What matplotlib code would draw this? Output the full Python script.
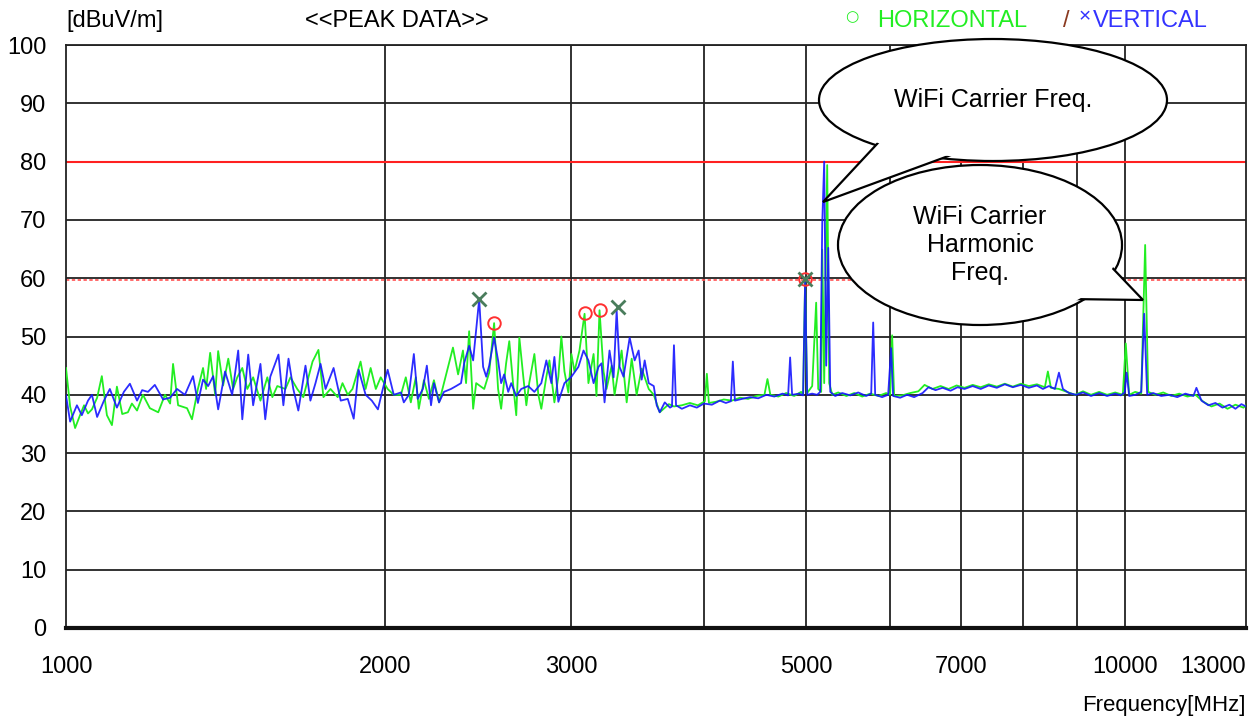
import matplotlib
matplotlib.use('Agg')
import matplotlib.pyplot as plt
from matplotlib.patches import Ellipse, Polygon
import numpy as np

plt.rcParams['font.family'] = ['Liberation Sans', 'DejaVu Sans']

# ---- data (MHz, dBuV/m) ----
h_freq = [1000, 1009, 1020, 1031, 1040, 1049, 1058, 1070, 1081, 1093, 1105, 1117, 1130, 1144,
          1154, 1167, 1182, 1200, 1222, 1240, 1254, 1262, 1276, 1301, 1315, 1332, 1347, 1356,
          1368, 1383, 1392, 1407, 1423, 1438, 1451, 1467, 1483, 1502, 1526, 1549, 1566, 1583,
          1611, 1629, 1653, 1675, 1709, 1731, 1750, 1777, 1805, 1824, 1845, 1864, 1897, 1918,
          1939, 1961, 1982, 2012, 2039, 2071, 2093, 2116, 2139, 2153, 2177, 2201, 2225, 2250,
          2274, 2319, 2345, 2370, 2386, 2402, 2423, 2439, 2482, 2509, 2536, 2558, 2575, 2603,
          2621, 2644, 2661, 2679, 2702, 2720, 2737, 2768, 2792, 2810, 2841, 2860, 2891, 2916,
          2935, 2955, 2980, 3000, 3020, 3053, 3087, 3113, 3148, 3168, 3189, 3217, 3238, 3274,
          3295, 3346, 3383, 3420, 3457, 3495, 3549, 3588, 3635, 3708, 3749, 3814, 3881, 3949,
          4010, 4027, 4045, 4106, 4178, 4252, 4328, 4404, 4484, 4564, 4594, 4623, 4705, 4785,
          4869, 4943, 4964, 4986, 5008, 5063, 5107, 5130, 5163, 5175, 5197, 5231, 5254, 5289,
          5358, 5454, 5548, 5645, 5744, 5846, 5946, 5998, 6024, 6050, 6156, 6265, 6377, 6464,
          6575, 6693, 6811, 6930, 7051, 7177, 7303, 7432, 7563, 7696, 7831, 7969, 8109, 8252,
          8396, 8451, 8507, 8657, 8809, 8965, 9122, 9282, 9447, 9612, 9783, 9946, 10010, 10085,
          10218, 10352, 10441, 10510, 10672, 10860, 11051, 11245, 11445, 11647, 11852, 12059,
          12271, 12487, 12705, 12929, 13000]
h_level = [44.6, 38.0, 34.3, 36.5, 38.2, 36.8, 37.5, 39.5, 43.2, 36.5, 34.8, 41.4, 36.7, 37.0,
           38.5, 37.3, 40.0, 37.7, 37.0, 40.0, 38.5, 45.3, 38.2, 37.7, 35.8, 41.0, 44.6, 41.0,
           47.2, 40.0, 47.5, 41.6, 46.2, 41.0, 43.0, 44.6, 41.0, 43.0, 39.0, 43.0, 39.6, 41.5,
           41.0, 43.0, 41.0, 39.6, 45.7, 47.7, 39.6, 41.0, 39.6, 42.0, 40.0, 41.0, 45.7, 41.0,
           44.6, 41.0, 43.0, 41.0, 40.0, 40.0, 43.0, 38.7, 43.0, 37.6, 42.5, 39.3, 42.5, 38.7,
           42.0, 48.1, 43.5, 47.6, 42.0, 50.9, 37.6, 42.0, 41.0, 43.8, 52.3, 41.0, 37.6, 45.4,
           49.2, 41.5, 36.5, 49.8, 43.1, 38.2, 42.0, 47.0, 40.0, 37.6, 43.1, 45.9, 38.7, 43.1,
           50.0, 44.0, 40.4, 47.0, 44.0, 47.6, 53.9, 42.0, 47.0, 39.8, 54.5, 44.0, 41.0, 45.0,
           40.0, 47.6, 38.7, 46.2, 40.0, 44.5, 41.0, 40.0, 37.0, 38.4, 38.0, 38.2, 38.6, 38.2,
           38.9, 43.6, 38.6, 38.8, 39.2, 39.0, 39.5, 39.3, 39.8, 40.0, 42.7, 40.0, 39.7, 40.3,
           39.8, 40.5, 40.0, 59.8, 40.3, 41.5, 55.8, 41.0, 40.5, 64.9, 42.0, 79.4, 42.0, 40.0,
           40.4, 39.8, 40.3, 39.7, 40.2, 39.8, 40.3, 40.0, 50.2, 39.8, 39.9, 40.3, 40.6, 41.7,
           41.0, 41.5, 41.0, 41.6, 41.2, 41.7, 41.3, 41.8, 41.4, 41.9, 41.4, 41.9, 41.5, 41.8,
           41.3, 44.0, 41.2, 41.0, 40.5, 40.0, 40.6, 40.0, 40.5, 40.0, 40.4, 40.0, 48.8, 40.0,
           40.5, 40.2, 65.7, 40.5, 40.0, 40.4, 39.8, 40.2, 39.7, 40.0, 38.8, 38.0,
           38.5, 37.6, 38.3, 37.8, 38.2]

v_freq = [1000, 1009, 1024, 1035, 1049, 1058, 1070, 1086, 1100, 1117, 1134, 1149, 1167, 1180,
          1195, 1213, 1235, 1254, 1273, 1295, 1318, 1332, 1347, 1362, 1377, 1392, 1413, 1435,
          1454, 1467, 1486, 1502, 1526, 1542, 1559, 1587, 1604, 1622, 1639, 1657, 1683, 1701,
          1720, 1739, 1758, 1789, 1817, 1845, 1869, 1889, 1918, 1944, 1970, 1991, 2012, 2039,
          2071, 2084, 2107, 2130, 2148, 2172, 2191, 2211, 2225, 2250, 2274, 2309, 2335, 2360,
          2376, 2402, 2423, 2455, 2476, 2493, 2509, 2536, 2558, 2575, 2592, 2615, 2632, 2661,
          2690, 2731, 2768, 2810, 2841, 2872, 2891, 2916, 2955, 3000, 3046, 3080, 3113, 3148,
          3182, 3203, 3224, 3259, 3288, 3310, 3331, 3360, 3405, 3442, 3472, 3495, 3518, 3549,
          3588, 3611, 3635, 3675, 3717, 3733, 3749, 3766, 3814, 3881, 3940, 4001, 4071, 4142,
          4197, 4243, 4261, 4280, 4347, 4425, 4503, 4583, 4663, 4747, 4805, 4826, 4847, 4921,
          4964, 4986, 5008, 5063, 5118, 5152, 5175, 5197, 5220, 5243, 5266, 5323, 5405, 5500,
          5596, 5693, 5756, 5781, 5806, 5895, 5972, 6011, 6037, 6130, 6224, 6319, 6436, 6520,
          6620, 6722, 6840, 6944, 7051, 7177, 7303, 7432, 7563, 7696, 7831, 7969, 8109, 8252,
          8360, 8470, 8581, 8657, 8732, 8848, 8984, 9122, 9282, 9447, 9612, 9783, 9903, 9987,
          10030, 10085, 10218, 10352, 10419, 10487, 10625, 10812, 11003, 11196, 11395, 11596,
          11672, 11800, 11980, 12165, 12351, 12541, 12705, 12871, 13000]
v_level = [39.9, 35.4, 38.2, 36.5, 39.0, 40.0, 36.2, 39.0, 41.0, 37.8, 40.5, 41.9, 39.0, 40.8,
           40.5, 41.7, 39.2, 39.5, 41.0, 40.0, 43.2, 38.6, 42.6, 41.5, 43.2, 37.5, 44.0, 40.0,
           47.6, 35.8, 46.9, 38.2, 45.3, 35.8, 43.1, 46.9, 38.2, 46.2, 41.0, 37.3, 45.0, 39.0,
           42.0, 45.3, 41.0, 44.6, 39.0, 39.3, 35.9, 44.3, 40.0, 39.0, 37.5, 41.0, 44.3, 40.0,
           40.4, 38.7, 40.0, 47.0, 39.3, 41.0, 45.0, 38.2, 42.0, 38.7, 40.5, 41.0, 41.5, 42.0,
           45.4, 48.4, 45.9, 56.4, 44.8, 43.1, 45.0, 49.8, 45.9, 42.0, 43.5, 40.5, 42.0, 39.8,
           41.0, 41.5, 40.5, 42.0, 45.9, 42.0, 46.5, 38.8, 42.0, 43.1, 44.8, 47.6, 45.9, 42.0,
           44.8, 45.4, 38.7, 47.6, 43.0, 54.5, 44.8, 43.1, 49.8, 45.9, 47.6, 42.6, 45.9, 42.0,
           41.5, 38.2, 37.0, 38.7, 37.8, 38.0, 48.5, 38.2, 37.6, 38.2, 37.8, 38.5, 38.3, 39.0,
           38.6, 38.9, 45.7, 39.0, 39.3, 39.6, 39.4, 40.0, 39.7, 40.2, 39.9, 46.4, 40.0, 40.2,
           39.9, 59.5, 40.0, 40.2, 40.0, 40.5, 69.4, 80.0, 45.0, 65.2, 40.5, 39.8, 40.3, 39.9,
           40.4, 39.8, 40.2, 52.4, 40.0, 39.6, 40.0, 48.0, 39.8, 39.5, 40.0, 39.6, 40.3, 41.3,
           40.8, 41.2, 40.7, 41.3, 41.0, 41.5, 41.0, 41.6, 41.2, 41.8, 41.3, 41.7, 41.2, 41.6,
           41.0, 41.5, 41.0, 43.8, 41.0, 40.3, 40.0, 40.4, 39.8, 40.3, 39.8, 40.2, 39.9, 40.4,
           43.8, 39.8, 40.0, 40.5, 53.9, 40.0, 40.3, 39.8, 40.0, 39.6, 40.2, 39.8,
           41.2, 39.0, 38.2, 38.6, 37.8, 38.3, 37.6, 38.4, 38.0]

# peak markers
h_peak_freq = [2536, 3087, 3189, 4986]
h_peak_level = [52.4, 54.0, 54.5, 59.8]
v_peak_freq = [2455, 3317, 4986]
v_peak_level = [56.5, 55.0, 59.8]

limit_level = 80
warn_level = 60

x_ticks = [1000, 2000, 3000, 5000, 7000, 10000, 13000]
x_grid_only = [4000, 6000, 8000, 9000]
y_ticks = list(range(0, 101, 10))

W, H = 1257, 721
fig = plt.figure(figsize=(W / 100, H / 100), dpi=100)
ax = fig.add_axes([66 / W, 1 - 628 / H, (1246 - 66) / W, (628 - 45) / H])


def px(x, y):
    # pixel (from top-left) -> figure fraction
    return (x / W, 1 - y / H)


ax.set_xscale('log')
ax.set_xlim(1000, 13000)
ax.set_ylim(0, 100)

grid_c = '#222222'
for yv in y_ticks[1:]:
    if yv != limit_level:
        ax.axhline(yv, color=grid_c, lw=1.3, zorder=1)
for xv in x_ticks[1:-1] + x_grid_only:
    ax.axvline(xv, color=grid_c, lw=1.3, zorder=1)

ax.axhline(limit_level, color='#ff2020', lw=1.5, zorder=2)
ax.axhline(warn_level - 0.35, color='#ff5050', lw=1.2, ls=(0, (2, 1.5)), zorder=2)

ax.plot(h_freq, h_level, color='#22ee22', lw=1.3, zorder=3)
ax.plot(v_freq, v_level, color='#1515ff', lw=1.3, zorder=4, alpha=0.9)

ax.plot(h_peak_freq, h_peak_level, 'o', ms=9, mfc='none', mec='#ff3030', mew=1.4, zorder=5)
ax.plot(v_peak_freq, v_peak_level, 'x', ms=10, mec='#4a7d5c', mew=2, zorder=6)

ax.xaxis.set_major_locator(matplotlib.ticker.FixedLocator(x_ticks))
ax.xaxis.set_minor_locator(matplotlib.ticker.NullLocator())
ax.set_xticklabels([str(t) for t in x_ticks])
ax.get_xticklabels()[-1].set_horizontalalignment('right')
ax.set_yticks(y_ticks)
ax.tick_params(axis='both', length=0, labelsize=17)
ax.tick_params(axis='x', pad=20)
ax.tick_params(axis='y', pad=14)

for s in ['left', 'right', 'top']:
    ax.spines[s].set_linewidth(1.3)
    ax.spines[s].set_color(grid_c)
ax.spines['bottom'].set_linewidth(3)
ax.spines['bottom'].set_color('#111111')

# header texts
fig.text(*px(66, 21), '[dBuV/m]', fontsize=17, va='center', ha='left')
fig.text(*px(305, 21), '<<PEAK DATA>>', fontsize=17, va='center', ha='left')
fig.text(*px(852, 17), '\u25cb', fontsize=11, color='#22ee22', va='center', ha='center',
         family=['DejaVu Sans'])
fig.text(*px(877, 21), 'HORIZONTAL', fontsize=17, color='#22ee22', va='center', ha='left')
fig.text(*px(1066, 21), '/', fontsize=17, color='#8a3a20', va='center', ha='center')
fig.text(*px(1085, 17), '\u00d7', fontsize=15, color='#3333ff', va='center', ha='center')
fig.text(*px(1093, 21), 'VERTICAL', fontsize=17, color='#3333ff', va='center', ha='left')
fig.text(*px(1246, 705), 'Frequency[MHz]', fontsize=16, va='center', ha='right')


def bubble(cx, cy, w, h, tail, label, fs, z):
    e = Ellipse(px(cx, cy), w / W, h / H, transform=fig.transFigure,
                facecolor='white', edgecolor='black', lw=1.6, zorder=z)
    fig.add_artist(e)
    tri = Polygon([px(*p) for p in tail], closed=True, transform=fig.transFigure,
                  facecolor='white', edgecolor='black', lw=1.6, zorder=z + 1)
    fig.add_artist(tri)
    inner = Ellipse(px(cx, cy), (w - 6) / W, (h - 6) / H, transform=fig.transFigure,
                    facecolor='white', edgecolor='none', zorder=z + 2)
    fig.add_artist(inner)
    fig.text(*px(cx, cy), label, fontsize=fs, ha='center', va='center',
             linespacing=1.2, zorder=z + 3)


bubble(993, 100, 348, 122, [(890, 130), (823, 202), (962, 151)], 'WiFi Carrier Freq.', 18, 10)
bubble(980, 245, 284, 160, [(1100, 255), (1143, 300), (1068, 299)],
       'WiFi Carrier\nHarmonic\nFreq.', 18, 20)

fig.savefig('out.png', dpi=100)
